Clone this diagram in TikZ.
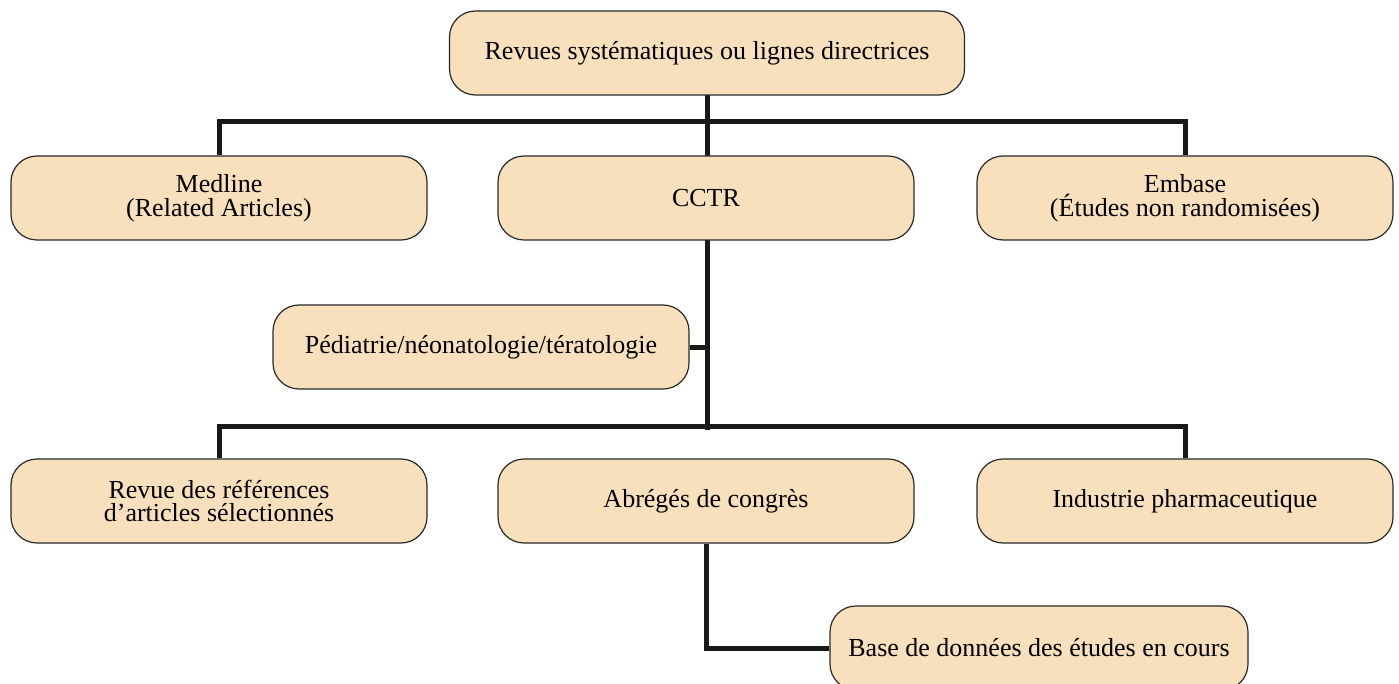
\documentclass[tikz,border=0pt]{standalone}
\usepackage{fontspec}
\setmainfont{Liberation Serif}
\definecolor{boxfill}{RGB}{248,224,188}
\definecolor{boxline}{RGB}{40,40,40}
\tikzset{
	srcbox/.style={draw=boxline, line width=1.2pt, fill=boxfill, rounded corners=26pt,
		minimum width=416pt, minimum height=84pt, align=center,
		font=\fontsize{26}{23.5}\selectfont},
	bus/.style={line width=5pt, black!90}
}

\begin{document}
\begin{tikzpicture}[x=1pt,y=-1pt]
		\useasboundingbox (0,0) rectangle (1399,684);
		
		\draw[bus] (707,53) -- (707,430);
		\node (top) at (707,53) [srcbox, minimum width=515pt] {Revues systématiques ou lignes directrices};
		
		\node (medline) at (219,198) [srcbox] {Medline\\(Related Articles)};
		\node (cctr) at (706,198) [srcbox] {CCTR};
		\node (embase) at (1185,198) [srcbox] {Embase\\(Études non randomisées)};
		
		\node (pediatrie) at (481,347) [srcbox] {Pédiatrie/néonatologie/tératologie};
		
		\node (revue) at (219,501) [srcbox] {Revue des références\\d’articles sélectionnés};
		\node (abreges) at (706,501) [srcbox] {Abrégés de congrès};
		\node (industrie) at (1185,501) [srcbox] {Industrie pharmaceutique};
		
		\node (base) at (1039,648) [srcbox, minimum width=418pt] {Base de données des études en cours};
		
		\coordinate (bus1) at (707,122);
		\coordinate (bus2) at (707,426);
		
		\draw[bus] (medline.north) |- (bus1) -| (embase.north);
		\draw[bus] (revue.north) |- (bus2) -| (industrie.north);
		\draw[bus] (pediatrie.east) -- (pediatrie.east -| bus2);
		\draw[bus] (abreges.south) |- (base.west);
		
	\end{tikzpicture}
\end{document}
